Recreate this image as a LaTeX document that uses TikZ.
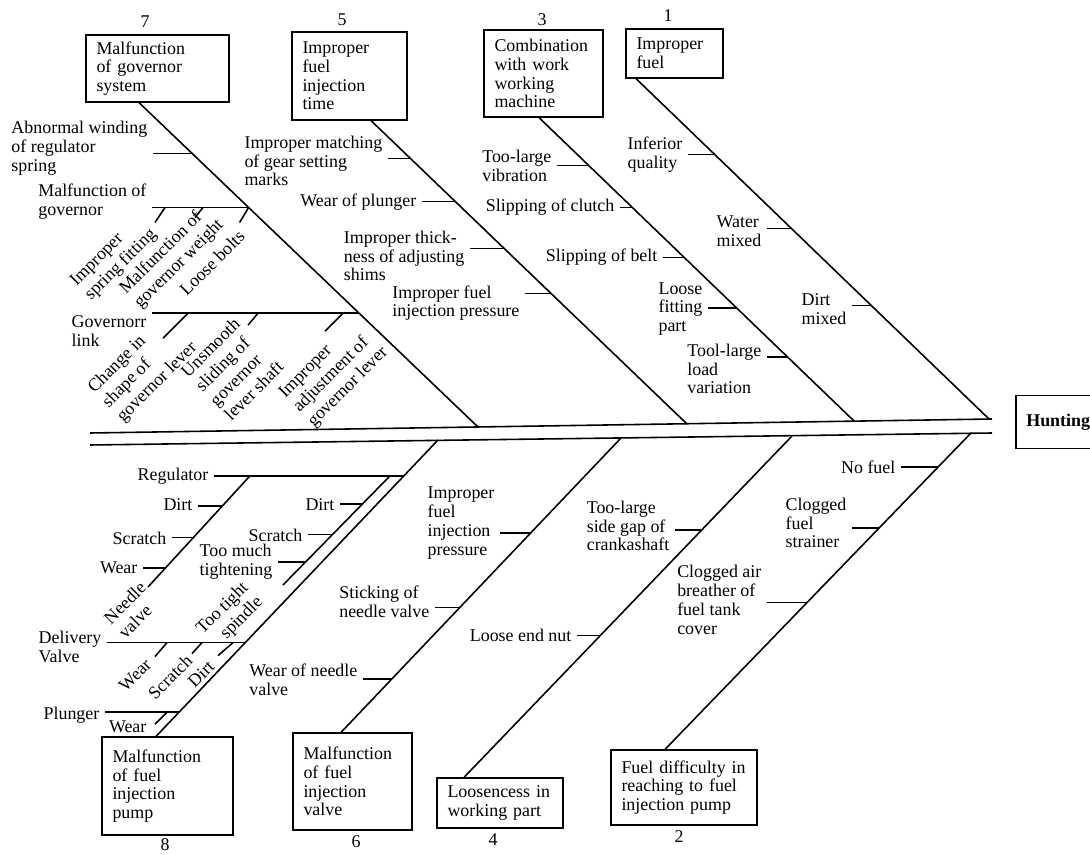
\documentclass[tikz,border=0pt]{standalone}
\usepackage{fontspec}
\setmainfont{Liberation Serif}
\usetikzlibrary{positioning, calc}
\newcommand{\fishfont}{\fontsize{10.2pt}{10.7pt}\selectfont}
\newcommand{\rotfont}{\fontsize{10.2pt}{11.6pt}\selectfont}

\begin{document}
\begin{tikzpicture}[x=0.02cm, y=-0.02cm,
    cause/.style={rectangle, draw, line width=0.9pt, align=left,
                  inner xsep=6pt, inner ysep=2pt, font=\fishfont},
    lbl/.style={align=left, inner xsep=3pt, inner ysep=1pt, font=\fishfont},
    rlbl/.style={lbl, rotate=45, font=\rotfont},
    num/.style={font=\fishfont},
    bone/.style={line width=0.9pt},
    tick/.style={line width=0.9pt}]

\useasboundingbox (0,0) rectangle (1090,855);

% Backbone (double line) and the effect
\coordinate (s1l) at (90,433);  \coordinate (s1r) at (992,419);
\coordinate (s2l) at (90,445);  \coordinate (s2r) at (992,433);
\draw [bone] (s1l) -- (s1r);
\draw [bone] (s2l) -- (s2r);
\node (hunt) [cause, anchor=west, minimum height=1.06cm, font=\fishfont\bfseries] at (1015,422) {Hunting};

% Where the main bones meet the backbone
\coordinate (b7) at (478,427);
\coordinate (b5) at (687,424);
\coordinate (b3) at (854,421);
\coordinate (b1) at (989,419);
\coordinate (b8) at (438,440);
\coordinate (b6) at (621,438);
\coordinate (b4) at (792,436);
\coordinate (b2) at (971,433);

% Upper cause boxes
\node (box7) [cause, text width=2.44cm, minimum height=1.34cm] at (157.5,68.5) {Malfunction\\of governor\\system};
\node (box5) [cause, text width=1.88cm, minimum height=1.76cm] at (349.5,76)   {Improper\\fuel\\injection\\time};
\node (box3) [cause, text width=1.96cm, minimum height=1.74cm] at (543.5,73.5) {Combination\\with work\\working\\machine};
\node (box1) [cause, text width=1.52cm, minimum height=0.98cm] at (674.5,53.5) {Improper\\fuel};
\node (num7) [num] at (145,22) {7};
\node (num5) [num] at (342,20) {5};
\node (num3) [num] at (542,20) {3};
\node (num1) [num] at (668,16) {1};

% Lower cause boxes
\node (box8) [cause, text width=2.20cm, minimum height=1.96cm] at (167.5,786) {Malfunction\\of fuel\\injection\\pump};
\node (box6) [cause, text width=1.96cm, minimum height=1.94cm] at (352.5,781.5) {Malfunction\\of fuel\\injection\\valve};
\node (box4) [cause, text width=2.10cm, minimum height=1.0cm]  at (500,803)   {Loosencess in\\working part};
\node (box2) [cause, text width=2.50cm, minimum height=1.5cm]  at (684,787.5) {Fuel difficulty in\\reaching to fuel\\injection pump};
\node (num8) [num] at (165,845) {8};
\node (num6) [num] at (356,842) {6};
\node (num4) [num] at (493,840) {4};
\node (num2) [num] at (679,837) {2};

% Bone 1 -- improper fuel
\draw [bone] (box1.south west) ++(11,0) -- (b1)
      coordinate [pos=.223] (t11) coordinate [pos=.440] (t12) coordinate [pos=.666] (t13);
\node (l11) [lbl, anchor=east] at (688,155) {Inferior\\quality};
\node (l12) [lbl, anchor=east] at (767,231) {Water\\mixed};
\node (l13) [lbl, anchor=east] at (852,309) {Dirt\\mixed};
\draw [tick] (t11) -- (t11 -| l11.east);
\draw [tick] (t12) -- (t12 -| l12.east);
\draw [tick] (t13) -- (t13 -| l13.east);

% Bone 3 -- combination with working machine
\draw [bone] (box3.south west) ++(56,0) -- (b3)
      coordinate [pos=.158] (t31) coordinate [pos=.296] (t32) coordinate [pos=.461] (t33)
      coordinate [pos=.628] (t34) coordinate [pos=.789] (t35);
\node (l31) [lbl, anchor=east] at (557,166) {Too-large\\vibration};
\node (l32) [lbl, anchor=east] at (620,207) {Slipping of clutch};
\node (l33) [lbl, anchor=east] at (663,257) {Slipping of belt};
\node (l34) [lbl, anchor=east] at (708,309) {Loose\\fitting\\part};
\node (l35) [lbl, anchor=east] at (767,369) {Tool-large\\load\\variation};
\draw [tick] (t31) -- (t31 -| l31.east);
\draw [tick] (t32) -- (t32 -| l32.east);
\draw [tick] (t33) -- (t33 -| l33.east);
\draw [tick] (t34) -- (t34 -| l34.east);
\draw [tick] (t35) -- (t35 -| l35.east);

% Bone 5 -- injection time
\draw [bone] (box5.south west) ++(80,0) -- (b5)
      coordinate [pos=.125] (t51) coordinate [pos=.266] (t52) coordinate [pos=.421] (t53)
      coordinate [pos=.569] (t54);
\node (l51) [lbl, anchor=east] at (388,161) {Improper matching\\of gear setting\\marks};
\node (l52) [lbl, anchor=east] at (422,202) {Wear of plunger};
\node (l53) [lbl, anchor=east] at (470,256) {Improper thick-\\ness of adjusting\\shims};
\node (l54) [lbl, anchor=east] at (525,303) {Improper fuel\\injection pressure};
\draw [tick] (t51) -- (t51 -| l51.east);
\draw [tick] (t52) -- (t52 -| l52.east);
\draw [tick] (t53) -- (t53 -| l53.east);
\draw [tick] (t54) -- (t54 -| l54.east);

% Bone 7 -- governor system
\draw [bone] (box7.south west) ++(54,0) -- (b7)
      coordinate [pos=.157] (t71) coordinate [pos=.323] (t72) coordinate [pos=.649] (t73);
\node (l71) [lbl, anchor=east] at (153,148) {Abnormal winding\\of regulator\\spring};
\node (l72) [lbl, anchor=east] at (152,202) {Malfunction of\\governor};
\node (l73) [lbl, anchor=east] at (152,331) {Governorr\\link};
\draw [tick] (t71) -- (t71 -| l71.east);
\draw [bone] (t72) -- (t72 -| l72.east);
\draw [bone] (t73) -- (t73 -| l73.east);
% small bones under "Malfunction of governor"
\draw [tick] (t72 -| 165,0) -- ++(-10,15) coordinate (k721);
\draw [tick] (t72 -| 203,0) -- ++(-8,10)  coordinate (k722);
\draw [tick] (t72) -- ++(-9,15) coordinate (k723);
\node (r721) [rlbl] at (114,258) {Improper\\spring fitting};
\node (r722) [rlbl] at (172,257) {Malfunction of\\governor weight};
\node (r723) [rlbl] at (212,263) {Loose bolts};
% small bones under "Governorr link"
\draw [tick] (t73 -| 188,0) -- ++(-25,25) coordinate (k731);
\draw [tick] (t73 -| 258,0) -- ++(-10,12) coordinate (k732);
\draw [tick] (t73 -| 343,0) -- ++(-18,18) coordinate (k733);
\node (r731) [rlbl] at (143,368) {Change in\\shape of\\governor lever};
\node (r732) [rlbl] at (232,369) {Unsmooth\\sliding of\\governor\\lever shaft};
\node (r733) [rlbl] at (334,373) {Improper\\adjustment of\\governor lever};

% Bone 8 -- fuel injection pump
\draw [bone] (box8.north west) ++(55,0) -- (b8)
      coordinate [pos=.081] (t83) coordinate [pos=.316] (t82) coordinate [pos=.879] (t81);
\node (l81) [lbl, anchor=east] at (214,476) {Regulator};
\draw [bone] (t81) -- (t81 -| l81.east);
% needle valve
\coordinate (nv) at (148,587);
\draw [bone] (t81 -| 250,0) -- (nv)
      coordinate [pos=.273] (v1) coordinate [pos=.555] (v2) coordinate [pos=.827] (v3);
\node (l811) [lbl, anchor=east] at (198,505) {Dirt};
\node (l812) [lbl, anchor=east] at (172,538) {Scratch};
\node (l813) [lbl, anchor=east] at (143,568) {Wear};
\draw [tick] (v1) -- (v1 -| l811.east);
\draw [tick] (v2) -- (v2 -| l812.east);
\draw [tick] (v3) -- (v3 -| l813.east);
\node (r81) [rlbl] at (132,610) {Needle\\valve};
% spindle
\coordinate (tts) at (283,585);
\draw [bone] (t81 -| 390,0) -- (tts)
      coordinate [pos=.259] (p1) coordinate [pos=.537] (p2) coordinate [pos=.787] (p3);
\node (l821) [lbl, anchor=east] at (340,505) {Dirt};
\node (l822) [lbl, anchor=east] at (308,535) {Scratch};
\node (l823) [lbl, anchor=east] at (278,562) {Too much\\tightening};
\draw [tick] (p1) -- (p1 -| l821.east);
\draw [tick] (p2) -- (p2 -| l822.east);
\draw [tick] (p3) -- (p3 -| l823.east);
\node (r82) [rlbl, align=right] at (230,616) {Too tight\\spindle};
% delivery valve
\node (l83) [lbl, anchor=east] at (107,647) {Delivery\\Valve};
\draw [bone] (t82) -- (t82 -| l83.east);
\draw [tick] (t82 -| 167,0) -- ++(-12,14) coordinate (k831);
\draw [tick] (t82 -| 202,0) -- ++(-10,11) coordinate (k832);
\draw [tick] (t82 -| 233,0) -- ++(-15,13) coordinate (k833);
\node (r831) [rlbl] at (135,675) {Wear};
\node (r832) [rlbl] at (170,677) {Scratch};
\node (r833) [rlbl] at (201,674) {Dirt};
% plunger
\node (l84) [lbl, anchor=east] at (105,715) {Plunger};
\draw [bone] (t83) -- (t83 -| l84.east);
\draw [tick] (t83 -| 167,0) -- ++(-12,12) coordinate (k84);
\node (l85) [lbl, anchor=east] at (152,727) {Wear};

% Bone 6 -- fuel injection valve
\draw [bone] (box6.north west) ++(49,0) -- (b6)
      coordinate [pos=.180] (t63) coordinate [pos=.424] (t62) coordinate [pos=.678] (t61);
\node (l61) [lbl, anchor=east] at (500,523) {Improper\\fuel\\injection\\pressure};
\node (l62) [lbl, anchor=east] at (435,602) {Sticking of\\needle valve};
\node (l63) [lbl, anchor=east] at (363,680) {Wear of needle\\valve};
\draw [tick] (t61) -- (t61 -| l61.east);
\draw [tick] (t62) -- (t62 -| l62.east);
\draw [tick] (t63) -- (t63 -| l63.east);

% Bone 4 -- looseness
\draw [bone] (box4.north west) ++(28,0) -- (b4)
      coordinate [pos=.415] (t42) coordinate [pos=.725] (t41);
\node (l41) [lbl, anchor=east] at (675,526) {Too-large\\side gap of\\crankashaft};
\node (l42) [lbl, anchor=east] at (577,635) {Loose end nut};
\draw [tick] (t41) -- (t41 -| l41.east);
\draw [tick] (t42) -- (t42 -| l42.east);

% Bone 2 -- fuel supply
\draw [bone] (box2.north west) ++(55,0) -- (b2)
      coordinate [pos=.464] (t23) coordinate [pos=.700] (t22) coordinate [pos=.893] (t21);
\node (l21) [lbl, anchor=east] at (901,467) {No fuel};
\node (l22) [lbl, anchor=east] at (852,523) {Clogged\\fuel\\strainer};
\node (l23) [lbl, anchor=east] at (767,600) {Clogged air\\breather of\\fuel tank\\cover};
\draw [tick] (t21) -- (t21 -| l21.east);
\draw [tick] (t22) -- (t22 -| l22.east);
\draw [tick] (t23) -- (t23 -| l23.east);

\end{tikzpicture}
\end{document}
